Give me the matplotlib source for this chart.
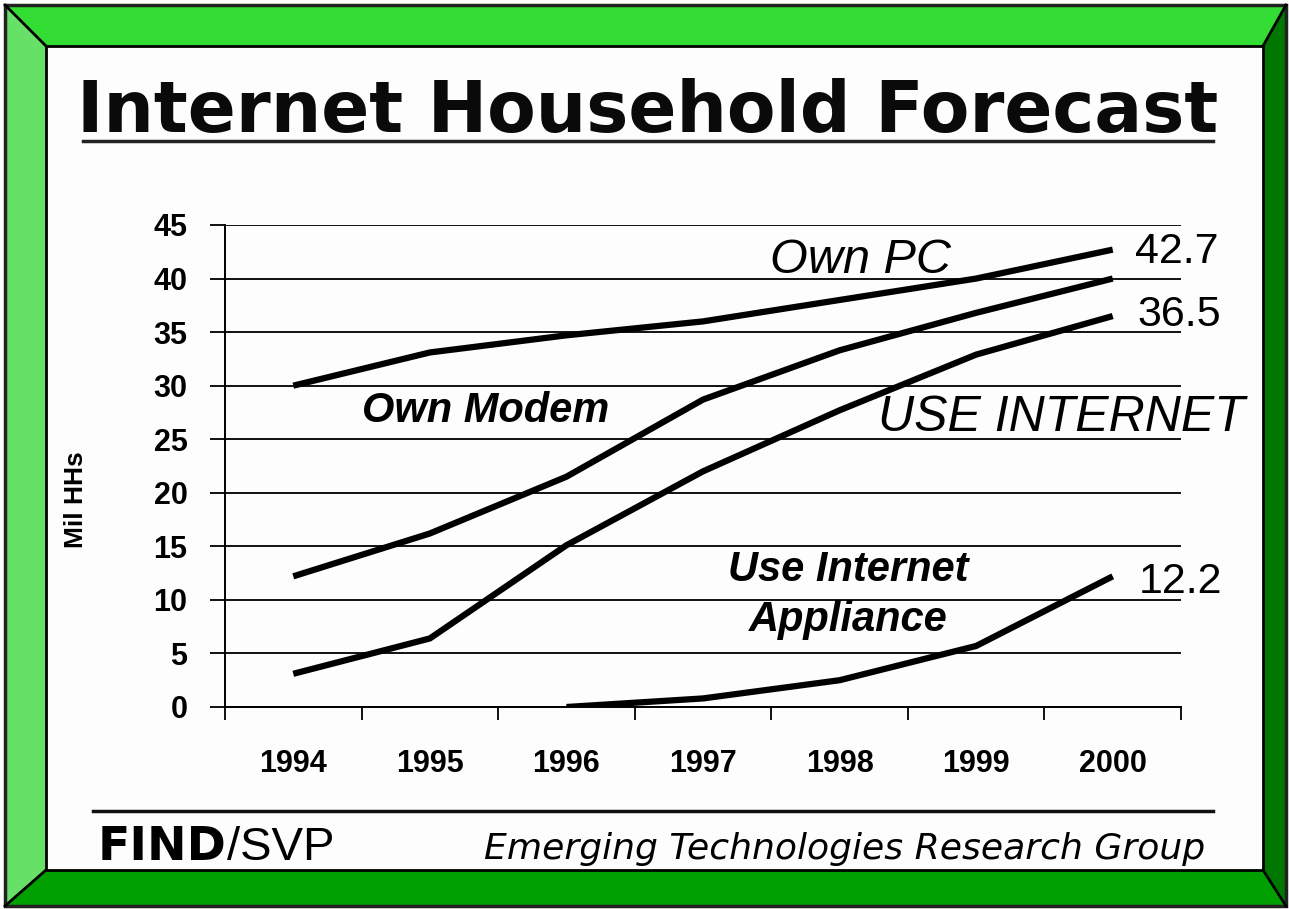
import numpy as np
import matplotlib
matplotlib.use("Agg")
import matplotlib.pyplot as plt
from matplotlib.patches import Polygon, Rectangle

# data (million households)
years = ['1994', '1995', '1996', '1997', '1998', '1999', '2000']
own_pc = [30.0, 33.1, 34.7, 36.0, 38.0, 40.0, 42.7]
own_modem = [12.2, 16.2, 21.5, 28.7, 33.3, 36.8, 40.0]
use_internet = [3.1, 6.4, 15.1, 22.0, 27.7, 32.9, 36.5]
appliance = [np.nan, np.nan, 0.0, 0.8, 2.5, 5.7, 12.2]
yticks = [0, 5, 10, 15, 20, 25, 30, 35, 40, 45]

W, H = 1289, 909
fig = plt.figure(figsize=(W / 100, H / 100), dpi=100)

# background / frame in pixel coordinates
bg = fig.add_axes([0, 0, 1, 1])
bg.set_xlim(0, W)
bg.set_ylim(H, 0)
bg.axis('off')

o0, o1x, o1y = 5, 1286, 906
i0x, i0y, i1x, i1y = 46, 46, 1263, 870
bg.add_patch(Polygon([(o0, o0), (o1x, o0), (i1x, i0y), (i0x, i0y)], closed=True, fc='#33dd33', ec='none'))
bg.add_patch(Polygon([(o0, o0), (i0x, i0y), (i0x, i1y), (o0, o1y)], closed=True, fc='#66e066', ec='none'))
bg.add_patch(Polygon([(o1x, o0), (o1x, o1y), (i1x, i1y), (i1x, i0y)], closed=True, fc='#007700', ec='none'))
bg.add_patch(Polygon([(o0, o1y), (i0x, i1y), (i1x, i1y), (o1x, o1y)], closed=True, fc='#00a000', ec='none'))
bg.add_patch(Rectangle((i0x, i0y), i1x - i0x, i1y - i0y, fc='#fdfdfd', ec='black', lw=2))
bg.add_patch(Rectangle((o0, o0), o1x - o0, o1y - o0, fc='none', ec='#222222', lw=2.5))
for (a, b) in [((o0, o0), (i0x, i0y)), ((o1x, o0), (i1x, i0y)),
               ((o0, o1y), (i0x, i1y)), ((o1x, o1y), (i1x, i1y))]:
    bg.plot([a[0], b[0]], [a[1], b[1]], color='black', lw=2)

# title + rules
bg.text(648, 132, 'Internet Household Forecast', ha='center', va='baseline',
        fontsize=51, fontweight='bold', family='DejaVu Sans', color='#0a0a0a')
bg.plot([83, 1213], [141, 141], color='#222222', lw=2.5)
bg.plot([93, 1213], [811, 811], color='#111111', lw=2.5)

# footer
t = bg.text(98, 860, 'FIND', ha='left', va='baseline', fontsize=34,
            fontweight='bold', family='DejaVu Sans', color='black')
fig.canvas.draw()
bb = t.get_window_extent()
bg.text(bb.x1, 860, '/SVP', ha='left', va='baseline', fontsize=34,
        family='Liberation Sans', color='black')
bg.text(1205, 859, 'Emerging Technologies Research Group', ha='right', va='baseline',
        fontsize=26, style='italic', family='DejaVu Sans', color='black')

# main chart
ax = fig.add_axes([225 / W, 1 - 707 / H, (1181 - 225) / W, (707 - 225) / H])
ax.set_facecolor('none')
x = np.arange(len(years))
for s in [own_pc, own_modem, use_internet, appliance]:
    ax.plot(x, s, color='black', lw=4.5, solid_capstyle='butt', zorder=3)

ax.set_xlim(-0.5, len(years) - 0.5)
ax.set_ylim(0, 45)
ax.set_yticks(yticks)
ax.set_yticklabels([str(v) for v in yticks], fontsize=22, fontweight='bold', family='Liberation Sans')
ax.yaxis.grid(True, color='#111111', lw=1.4)
ax.tick_params(axis='y', length=11, width=1.4, color='#111111', pad=16)
ax.set_xticks(x)
ax.set_xticklabels(years, fontsize=22, fontweight='bold', family='Liberation Sans')
ax.set_xticks(np.arange(-0.5, len(years), 1), minor=True)
ax.tick_params(axis='x', which='major', length=0, pad=30)
ax.tick_params(axis='x', which='minor', length=9, width=1.4, color='#111111')
for sp in ['top', 'right']:
    ax.spines[sp].set_visible(False)
ax.spines['left'].set_linewidth(1.4)
ax.spines['bottom'].set_linewidth(1.4)
ax.set_ylabel('Mil HHs', fontsize=19, fontweight='bold', family='Liberation Sans')
ax.yaxis.set_label_coords(-0.143, 0.43)

lab = dict(family='Liberation Sans', style='italic', color='black', clip_on=False)
ax.text(3.49, 41.7, 'Own PC', ha='left', va='center', fontsize=35, **lab)
ax.text(0.50, 27.6, 'Own Modem', ha='left', va='center', fontsize=30, fontweight='bold', **lab)
ax.text(4.28, 27.0, 'USE INTERNET', ha='left', va='center', fontsize=36, **lab)
ax.text(4.06, 12.8, 'Use Internet', ha='center', va='center', fontsize=30, fontweight='bold', **lab)
ax.text(4.06, 8.1, 'Appliance', ha='center', va='center', fontsize=30, fontweight='bold', **lab)

num = dict(family='Liberation Sans', color='black', clip_on=False, fontsize=31, ha='left', va='center')
ax.text(6.16, 42.5, '42.7', **num)
ax.text(6.18, 36.6, '36.5', **num)
ax.text(6.19, 11.7, '12.2', **num)

fig.savefig('out.png', dpi=100)
